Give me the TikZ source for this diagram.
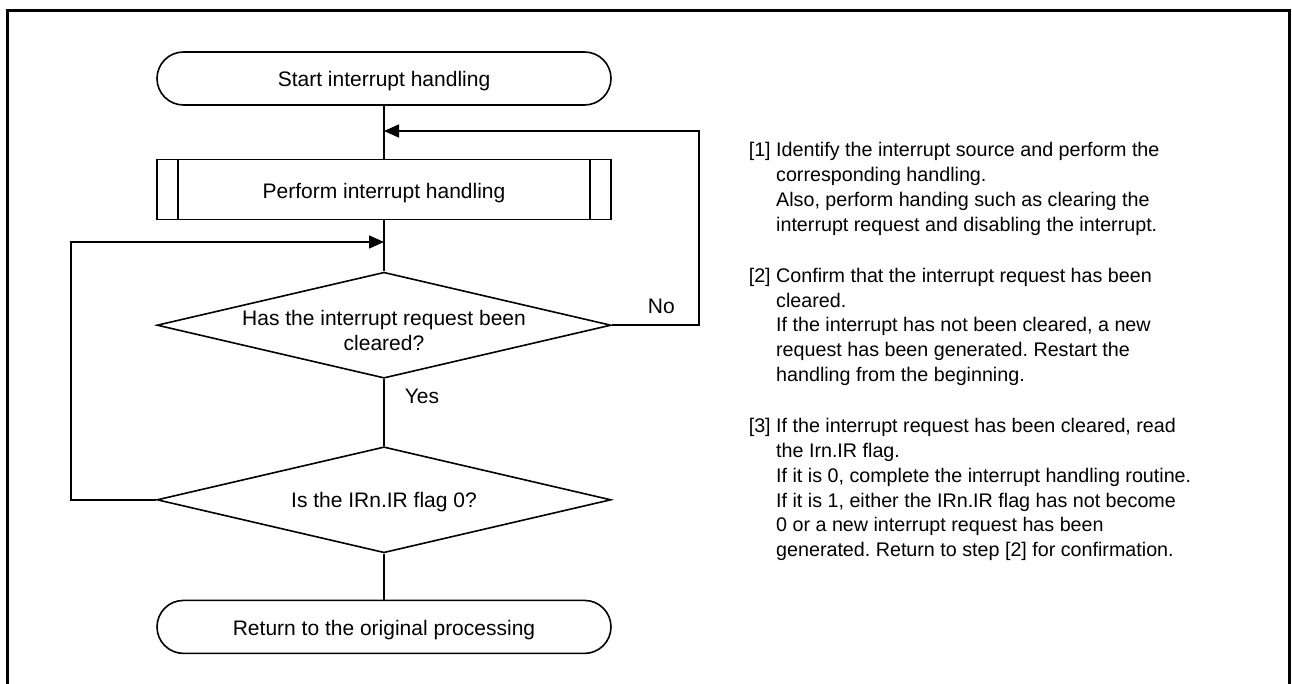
\documentclass[tikz,border=0pt]{standalone}
\usepackage{fontspec}
\setmainfont{Liberation Sans}
\frenchspacing
\usetikzlibrary{arrows.meta,positioning,shapes.geometric}

\begin{document}
\begin{tikzpicture}[x=1pt, y=-1pt,
  font=\fontsize{21pt}{24.8pt}\selectfont,
  line width=1.6pt,
  term/.style={draw, rounded corners=26.5pt, minimum width=454pt,
               minimum height=53pt, inner sep=0pt, text height=17pt, text depth=0pt},
  proc/.style={draw, minimum width=454pt, minimum height=60pt,
               inner sep=0pt, text height=17pt, text depth=0pt},
  decision/.style={draw, diamond, minimum width=454pt, minimum height=106pt,
                   inner sep=0pt},
  note/.style={inner sep=0pt, anchor=north west, font=\fontsize{19.7pt}{24.8pt}\selectfont},
  arr/.style={-{Triangle[length=15pt, width=13pt]}}]
\useasboundingbox (0,0) rectangle (1292,684);
\draw[line width=3pt] (7,684) -- (7,11) -- (1289.5,11) -- (1289.5,684);
% flow chart
\node[term] (start) at (384,78.5) {Start interrupt handling};
\node[proc, below=53pt of start] (handle) {Perform interrupt handling};
\draw ([xshift=22pt]handle.north west) -- ([xshift=22pt]handle.south west);
\draw ([xshift=-22pt]handle.north east) -- ([xshift=-22pt]handle.south east);
\node[decision, below=51pt of handle,
  label={[align=center, yshift=-5pt]center:Has the interrupt request been\\cleared?}] (cleared) {};
\node[decision, below=67pt of cleared,
  label={[text height=16pt, text depth=0pt]center:Is the IRn.IR flag 0?}] (flag) {};
\node[term, below=46pt of flag] (return) {Return to the original processing};
\coordinate (back1) at (384,131);
\coordinate (back2) at (384,242);
\draw (start) -- (handle);
\draw (handle) -- (cleared);
\draw (cleared) -- node[pos=0.26, right=20pt, inner sep=0pt]{Yes} (flag);
\draw (flag) -- (return);
\draw[arr] (cleared.east) -- node[pos=0.57, above=11pt, inner sep=0pt]{No} ++(87,0) |- (back1);
\draw[arr] (flag.west) -- ++(-85,0) |- (back2);
% notes
\node[note] (step1) at (748,138.6) {\begin{tabular}{@{}l@{\ }l@{}}
[1] & Identify the interrupt source and perform the\\
    & corresponding handling.\\
    & Also, perform handing such as clearing the\\
    & interrupt request and disabling the interrupt.
\end{tabular}};
\node[note, below=24.8pt of step1.south west, anchor=north west] (step2) {\begin{tabular}{@{}l@{\ }l@{}}
[2] & Confirm that the interrupt request has been\\
    & cleared.\\
    & If the interrupt has not been cleared, a new\\
    & request has been generated. Restart the\\
    & handling from the beginning.
\end{tabular}};
\node[note, below=24.8pt of step2.south west, anchor=north west] (step3) {\begin{tabular}{@{}l@{\ }l@{}}
[3] & If the interrupt request has been cleared, read\\
    & the Irn.IR flag.\\
    & If it is 0, complete the interrupt handling routine.\\
    & If it is 1, either the IRn.IR flag has not become\\
    & 0 or a new interrupt request has been\\
    & generated. Return to step [2] for confirmation.
\end{tabular}};
\end{tikzpicture}
\end{document}
